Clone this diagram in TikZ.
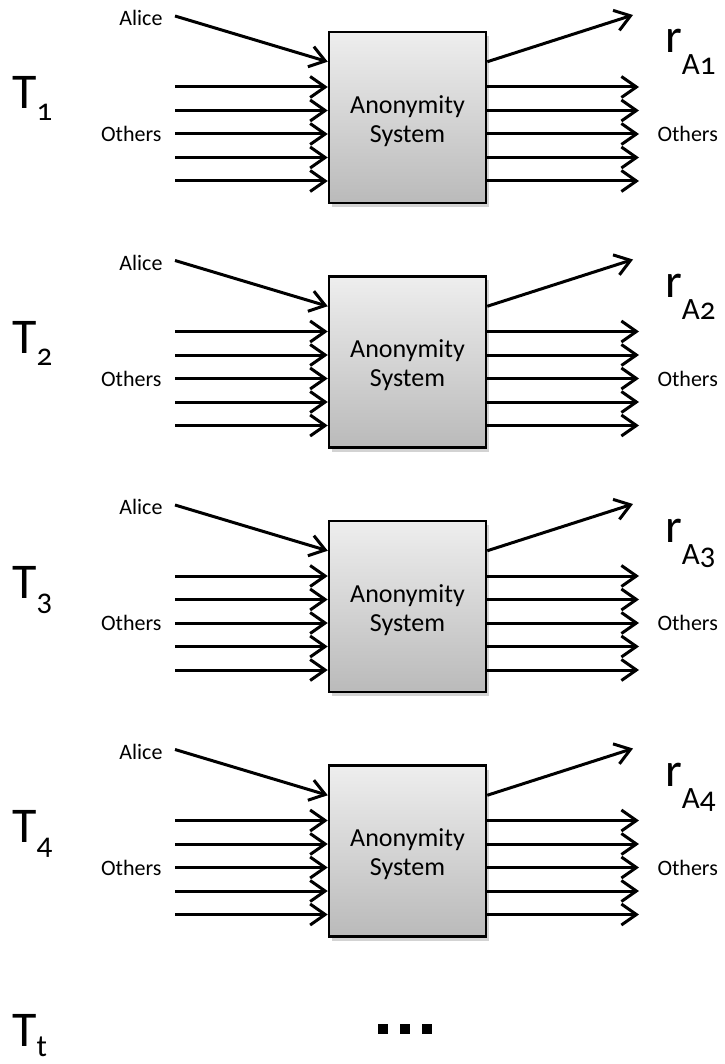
\documentclass[tikz,border=0pt]{standalone}
\usepackage{fontspec}
\setmainfont{Carlito}[Numbers=OldStyle]
\usepackage{tikz}
\usetikzlibrary{arrows.meta, positioning, calc, shadows}
\definecolor{boxtop}{RGB}{238, 238, 238}
\definecolor{boxbottom}{RGB}{186, 186, 186}

\begin{document}
\begin{tikzpicture}[x=1pt, y=-1pt,
			system/.style={rectangle, draw, line width=2.5pt, minimum width=157pt, minimum height=171pt, align=center, top color=boxtop, bottom color=boxbottom, drop shadow={shadow xshift=3pt, shadow yshift=-4pt, opacity=0.35}, font=\fontsize{26}{29}\selectfont},
			arrow/.style={-{Straight Barb[length=15pt, width=21pt]}, line width=3pt},
			flowlabel/.style={font=\fontsize{22}{26}\selectfont},
			timelabel/.style={anchor=base west, inner sep=0pt, font=\fontsize{50}{50}\selectfont},
			resultlabel/.style={anchor=base west, inner sep=0pt, font=\fontsize{48}{48}\selectfont}
		]
		\useasboundingbox (0,0) rectangle (724,1064);
		\foreach \k in {1,...,4} {
			\pgfmathsetmacro{\dy}{(\k-1)*244.5}
			\node[system] (sys\k) at (407.5,117.5+\dy) {};
			\node[font=\fontsize{26}{29}\selectfont, align=center] (systext\k) at (407.5,121+\dy) {Anonymity\\System};
			\node[timelabel] (time\k) at (12,109+\dy) {T\raisebox{-12pt}{\fontsize{31}{31}\selectfont\k}};
			\node[resultlabel] (result\k) at (665,53+\dy) {r\raisebox{-22pt}{\fontsize{31}{31}\selectfont A\k}};
			\node[flowlabel, anchor=east] (alice\k) at (166,18+\dy) {Alice};
			\node[flowlabel, anchor=east] (othersin\k) at (165,134+\dy) {Others};
			\node[flowlabel, anchor=west] (othersout\k) at (654,134+\dy) {Others};
			\coordinate (alicestart\k) at (175,16+\dy);
			\coordinate (resultend\k) at (633,15+\dy);
			\draw[arrow] (alicestart\k) -- ([yshift=-31pt]sys\k.north west);
			\draw[arrow] ([yshift=-31pt]sys\k.north east) -- (resultend\k);
			\foreach \j in {0,...,4} {
				\coordinate (src\k\j) at (175,87+23.5*\j+\dy);
				\coordinate (dst\k\j) at (639,87+23.5*\j+\dy);
				\draw[arrow] (src\k\j) -- (src\k\j -| sys\k.west);
				\draw[arrow] (sys\k.east |- dst\k\j) -- (dst\k\j);
			}
		}
		\node[timelabel] (timelast) at (12,1046) {T\raisebox{-10pt}{\fontsize{31}{31}\selectfont t}};
		\foreach \i in {0,1,2}
			\node[fill, minimum size=10pt, inner sep=0pt] (dot\i) at (383+22*\i,1029) {};
		\end{tikzpicture}
\end{document}
